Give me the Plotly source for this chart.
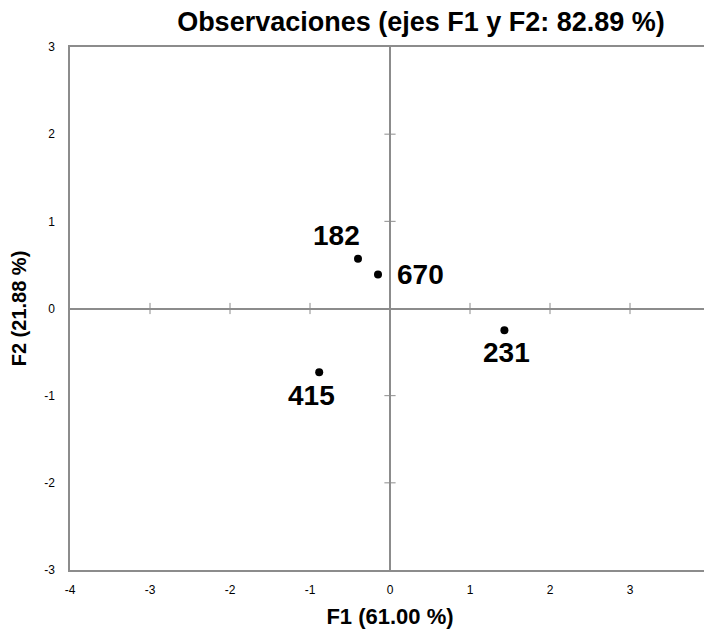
import plotly.graph_objects as go

labels = ["182", "670", "231", "415"]
f1 = [-0.40, -0.15, 1.43, -0.885]
f2 = [0.57, 0.39, -0.25, -0.73]
label_dx = [-22, 42, 2, -8]
label_dy = [23, 0, -22, -23]

x_ticks = [-4, -3, -2, -1, 0, 1, 2, 3, 4]
x_tick_text = ["-4", "-3", "-2", "-1", "0", "1", "2", "3", "4"]
y_ticks = [-3, -2, -1, 0, 1, 2, 3]
y_tick_text = ["-3", "-2", "-1", "0", "1", "2", "3"]

FONT = "Liberation Sans, Arial, sans-serif"
GRAY = "#8c8c8c"

fig = go.Figure()

# crossing tick marks on the zero lines
fig.add_trace(go.Scatter(
    x=[t for t in x_ticks if t not in (0, -4, 4)], y=[0] * 6,
    mode="markers", hoverinfo="skip",
    marker=dict(symbol="line-ns", size=8, line=dict(color=GRAY, width=1)),
    showlegend=False))
fig.add_trace(go.Scatter(
    x=[0] * 4, y=[t for t in y_ticks if t not in (0, -3, 3)],
    mode="markers", hoverinfo="skip",
    marker=dict(symbol="line-ew", size=8, line=dict(color=GRAY, width=1)),
    showlegend=False))

fig.add_trace(go.Scatter(
    x=f1, y=f2, mode="markers",
    marker=dict(color="black", size=8),
    showlegend=False, cliponaxis=False))

for lab, x, y, dx, dy in zip(labels, f1, f2, label_dx, label_dy):
    fig.add_annotation(x=x, y=y, text=lab, showarrow=False,
                       xshift=dx, yshift=dy,
                       font=dict(family=FONT, size=28, color="black", weight="bold"))

axis_common = dict(
    showgrid=False, zeroline=True, zerolinecolor=GRAY, zerolinewidth=1.5,
    showline=True, linecolor=GRAY, linewidth=1.5, mirror=True,
    ticks="", tickfont=dict(family=FONT, size=12, color="black"),
)

fig.update_layout(
    width=704, height=621,
    margin=dict(l=62, r=0, t=39, b=54),
    paper_bgcolor="white", plot_bgcolor="white",
    title=dict(text="Observaciones (ejes F1 y F2: 82.89 %)",
               font=dict(family=FONT, size=27, color="black", weight="bold"),
               x=413 / 704, xanchor="center", xref="container",
               y=1 - 14 / 621, yanchor="middle", yref="container"),
    xaxis=dict(range=[-4, 4], tickvals=x_ticks, ticktext=x_tick_text,
               ticklabelstandoff=8,
               title=dict(text="F1 (61.00 %)", standoff=16,
                          font=dict(family=FONT, size=22, color="black", weight="bold")),
               **axis_common),
    yaxis=dict(range=[-3, 3], tickvals=y_ticks, ticktext=y_tick_text,
               ticklabelstandoff=11,
               title=dict(text="F2 (21.88 %)", standoff=12,
                          font=dict(family=FONT, size=20, color="black", weight="bold")),
               **axis_common),
)

fig.write_html("out.html")
